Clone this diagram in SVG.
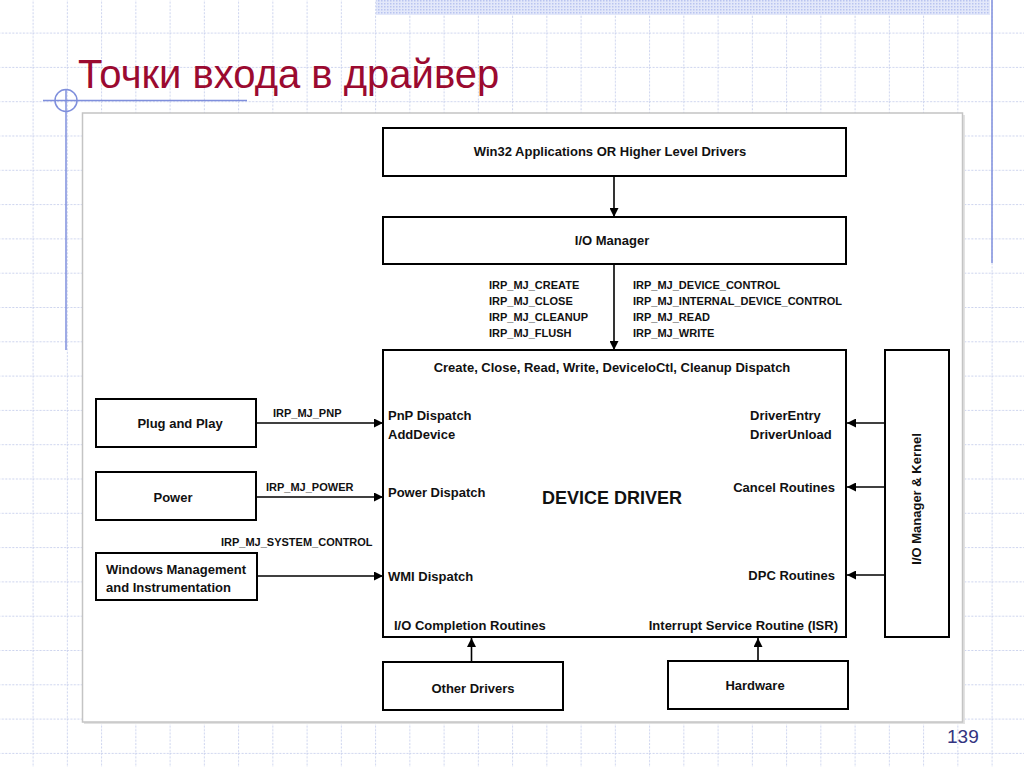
<svg xmlns="http://www.w3.org/2000/svg" width="1024" height="767" viewBox="0 0 1024 767">
  <defs>
    <pattern id="grid" patternUnits="userSpaceOnUse" x="32.6" y="32.6" width="34.25" height="34.3">
      <path d="M0.5 0V34.3M0 0.5H34.25" stroke="#ccd3ee" stroke-width="1" stroke-dasharray="2 1.5" fill="none"/>
    </pattern>
    <pattern id="dots" patternUnits="userSpaceOnUse" width="3" height="3">
      <rect width="3" height="3" fill="#e3e8fa"/>
      <rect width="1.5" height="1.5" fill="#b9c4f0"/>
    </pattern>
    <marker id="arr" viewBox="0 0 10 10" refX="10" refY="5" markerWidth="9" markerHeight="9" markerUnits="userSpaceOnUse" orient="auto">
      <path d="M0 0L10 5L0 10Z" fill="#000"/>
    </marker>
    <style>
      .box { fill: #fff; stroke: #000; stroke-width: 2; }
      .t { font-family: "Liberation Sans", Arial, sans-serif; font-weight: bold; font-size: 13px; fill: #111; }
      .s { font-family: "Liberation Sans", Arial, sans-serif; font-weight: bold; font-size: 11px; fill: #111; }
      .big { font-size: 18px; }
      .m { text-anchor: middle; }
      .e { text-anchor: end; }
      .c { stroke: #000; stroke-width: 1.6; fill: none; marker-end: url(#arr); }
      .deco { stroke: #7f8fdc; stroke-width: 1.5; fill: none; }
    </style>
  </defs>

  <!-- slide background -->
  <rect width="1024" height="767" fill="#fff"/>
  <rect width="1024" height="767" fill="url(#grid)"/>
  <rect x="376" y="0" width="614" height="15" fill="url(#dots)"/>
  <line class="deco" x1="992" y1="0" x2="992" y2="263"/>
  <line class="deco" x1="43" y1="100.5" x2="247" y2="100.5"/>
  <line class="deco" x1="66" y1="89" x2="66" y2="350"/>
  <circle class="deco" cx="66" cy="100.5" r="11"/>

  <text x="78" y="88" font-family="Liberation Sans, Arial, sans-serif" font-size="40" fill="#9b0a30">Точки входа в драйвер</text>
  <text x="947" y="743" font-family="Liberation Sans, Arial, sans-serif" font-size="19" fill="#333380">139</text>

  <!-- white panel -->
  <rect x="84" y="115" width="881" height="609" fill="#e2e2e2"/>
  <rect x="82.5" y="113" width="880" height="609" fill="#fff" stroke="#c4c4c4" stroke-width="1.5"/>

  <!-- connectors -->
  <g id="connectors">
    <line class="c" x1="614" y1="177" x2="614" y2="217"/>
    <line class="c" x1="614" y1="265" x2="614" y2="350"/>
    <line class="c" x1="257" y1="423" x2="383" y2="423"/>
    <line class="c" x1="257" y1="497" x2="383" y2="497"/>
    <line class="c" x1="258" y1="576" x2="383" y2="576"/>
    <line class="c" x1="884" y1="423" x2="847" y2="423"/>
    <line class="c" x1="884" y1="487" x2="847" y2="487"/>
    <line class="c" x1="884" y1="575" x2="847" y2="575"/>
    <line class="c" x1="471.5" y1="661" x2="471.5" y2="638"/>
    <line class="c" x1="758" y1="660" x2="758" y2="638"/>
    <text class="s" x="489" y="289">IRP_MJ_CREATE</text>
    <text class="s" x="489" y="305">IRP_MJ_CLOSE</text>
    <text class="s" x="489" y="321">IRP_MJ_CLEANUP</text>
    <text class="s" x="489" y="337">IRP_MJ_FLUSH</text>
    <text class="s" x="633" y="289">IRP_MJ_DEVICE_CONTROL</text>
    <text class="s" x="633" y="305">IRP_MJ_INTERNAL_DEVICE_CONTROL</text>
    <text class="s" x="633" y="321">IRP_MJ_READ</text>
    <text class="s" x="633" y="337">IRP_MJ_WRITE</text>
    <text class="s" x="273" y="417">IRP_MJ_PNP</text>
    <text class="s" x="266" y="491">IRP_MJ_POWER</text>
    <text class="s" x="221" y="546">IRP_MJ_SYSTEM_CONTROL</text>
  </g>

  <g id="win32">
    <rect class="box" x="383" y="128" width="463" height="48"/>
    <text class="t m" x="610" y="156">Win32 Applications OR Higher Level Drivers</text>
  </g>
  <g id="iomanager">
    <rect class="box" x="383" y="217" width="463" height="47"/>
    <text class="t m" x="612" y="245">I/O Manager</text>
  </g>
  <g id="devicedriver">
    <rect class="box" x="383" y="350" width="463" height="287"/>
    <text class="t m" x="612" y="372">Create, Close, Read, Write, DeviceIoCtl, Cleanup Dispatch</text>
    <text class="t" x="388" y="420">PnP Dispatch</text>
    <text class="t" x="388" y="439">AddDevice</text>
    <text class="t" x="388" y="497">Power Dispatch</text>
    <text class="t" x="388" y="581">WMI Dispatch</text>
    <text class="t big m" x="612" y="504">DEVICE DRIVER</text>
    <text class="t" x="750" y="420">DriverEntry</text>
    <text class="t" x="750" y="439">DriverUnload</text>
    <text class="t e" x="835" y="492">Cancel Routines</text>
    <text class="t e" x="835" y="580">DPC Routines</text>
    <text class="t" x="394" y="630">I/O Completion Routines</text>
    <text class="t e" x="838" y="630">Interrupt Service Routine (ISR)</text>
  </g>
  <g id="kernel">
    <rect class="box" x="885" y="350" width="64" height="287"/>
    <text class="t m" transform="translate(920.5,499) rotate(-90)" x="0" y="0">I/O Manager &amp; Kernel</text>
  </g>
  <g id="pnp">
    <rect class="box" x="96" y="399" width="160" height="48"/>
    <text class="t m" x="180" y="428">Plug and Play</text>
  </g>
  <g id="power">
    <rect class="box" x="96" y="472" width="160" height="48"/>
    <text class="t m" x="173" y="502">Power</text>
  </g>
  <g id="wmi">
    <rect class="box" x="96" y="553" width="161" height="47"/>
    <text class="t" x="106" y="574">Windows Management</text>
    <text class="t" x="106" y="592">and Instrumentation</text>
  </g>
  <g id="otherdrivers">
    <rect class="box" x="383" y="662" width="180" height="48"/>
    <text class="t m" x="473" y="693">Other Drivers</text>
  </g>
  <g id="hardware">
    <rect class="box" x="668" y="661" width="180" height="48"/>
    <text class="t m" x="755" y="690">Hardware</text>
  </g>
</svg>
